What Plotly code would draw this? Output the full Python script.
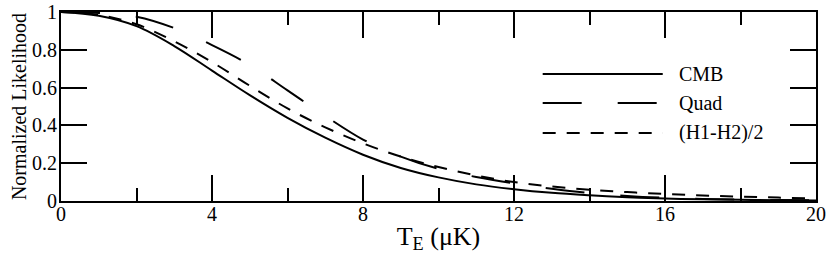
import plotly.graph_objects as go

T_E = [0, 1, 2, 3, 4, 5, 6, 7, 8, 9, 10, 11, 12, 13, 14, 15, 16, 17, 18, 19, 20]
cmb = [1.0, 0.98, 0.925, 0.82, 0.69, 0.56, 0.44, 0.335, 0.245, 0.175, 0.125,
       0.088, 0.062, 0.043, 0.03, 0.02, 0.013, 0.009, 0.006, 0.004, 0.003]
quad = [1.0, 0.995, 0.975, 0.915, 0.825, 0.72, 0.585, 0.45, 0.325, 0.235, 0.17,
        0.127, 0.093, 0.065, 0.042, 0.027, 0.017, 0.011, 0.007, 0.005, 0.003]
h1h2 = [1.0, 0.985, 0.935, 0.845, 0.735, 0.61, 0.49, 0.39, 0.305, 0.235, 0.18,
        0.135, 0.10, 0.077, 0.06, 0.047, 0.037, 0.029, 0.023, 0.018, 0.014]
series_names = ["CMB", "Quad", "(H1-H2)/2"]

FONT = "Liberation Serif, Times New Roman, serif"
dashes = ["solid", "39px,36px", "13px,11px"]
series = [cmb, quad, h1h2]

fig = go.Figure()
for name, ys, d in zip(series_names, series, dashes):
    fig.add_trace(go.Scatter(x=T_E, y=ys, mode="lines", name=name,
                             line=dict(color="black", width=2, dash=d, shape="spline"),
                             showlegend=False))

# manual legend
leg_y = [0.672, 0.519, 0.360]
for name, d, yy in zip(series_names, dashes, leg_y):
    fig.add_shape(type="line", xref="paper", yref="paper", x0=0.638, x1=0.797,
                  y0=yy, y1=yy, line=dict(color="black", width=2, dash=d))
    fig.add_annotation(xref="paper", yref="paper", x=0.816, y=yy, text=name,
                       showarrow=False, xanchor="left", yanchor="middle",
                       font=dict(family=FONT, size=20, color="black"))

fig.update_xaxes(range=[0, 20], tick0=0, dtick=4, automargin=False,
                 showline=True, linecolor="black", linewidth=2, mirror="allticks",
                 ticks="inside", ticklen=26, tickwidth=2, tickcolor="black",
                 showgrid=False, zeroline=False, ticklabelstandoff=-6,
                 ticklabeloverflow="allow",
                 tickfont=dict(family=FONT, size=20, color="black"),
                 minor=dict(ticks="inside", ticklen=13, dtick=2, tickwidth=2,
                            tickcolor="black", showgrid=False),
                 title=dict(text="T<sub>E</sub> (μK)", standoff=4,
                            font=dict(family=FONT, size=26, color="black")))
fig.update_yaxes(range=[0, 1], tick0=0, dtick=0.2, automargin=False,
                 showline=True, linecolor="black", linewidth=2, mirror="allticks",
                 ticks="inside", ticklen=26, tickwidth=2, tickcolor="black",
                 showgrid=False, zeroline=False, ticklabelstandoff=-2,
                 ticklabeloverflow="allow",
                 tickfont=dict(family=FONT, size=20, color="black"),
                 title=dict(text="Normalized Likelihood", standoff=0,
                            font=dict(family=FONT, size=20, color="black")))

fig.update_layout(width=830, height=254, margin=dict(l=61, r=14, t=12, b=53),
                  plot_bgcolor="white", paper_bgcolor="white",
                  font=dict(family=FONT, color="black"))
fig.write_html("out.html", config={"displayModeBar": False},
               post_script="document.body.style.margin='0';")
